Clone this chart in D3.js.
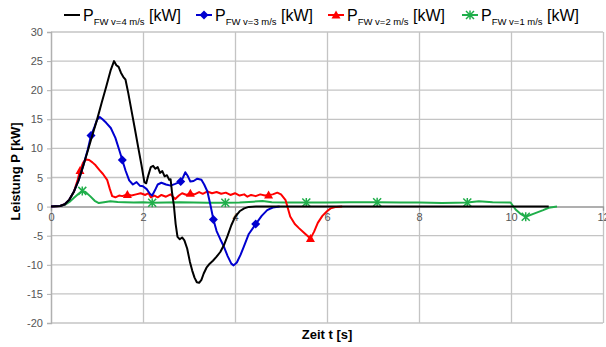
<!DOCTYPE html>
<html>
<head>
<meta charset="utf-8">
<script src="https://cdn.jsdelivr.net/npm/d3@7"></script>
<style>
  body { margin: 0; background: #fff; }
  text { font-family: "Liberation Sans", Arial, sans-serif; }
</style>
</head>
<body>
<script>
// Zeit t [s], Leistung P [kW]
var v4 = [[0,0],[0.2,0.1],[0.3,0.4],[0.4,1.2],[0.5,2.6],[0.6,4.5],[0.7,7],[0.8,9.6],[0.9,12.3],[1.0,14.9],
          [1.1,17.8],[1.2,20.6],[1.3,23.5],[1.37,25],[1.42,24.3],[1.47,24.0],[1.52,23.0],[1.57,22.3],[1.62,21.8],
          [1.68,19.5],[1.75,16.5],[1.82,13.5],[1.9,10],[1.97,7],[2.03,4.2],[2.07,4.0],[2.12,5.5],[2.17,6.8],
          [2.22,7.0],[2.27,6.5],[2.32,6.8],[2.37,5.8],[2.42,6.1],[2.47,5.2],[2.52,5.4],[2.57,4.6],[2.6,4.7],
          [2.63,2.5],[2.67,0.3],[2.71,-3],[2.75,-5.2],[2.8,-5.6],[2.85,-5.3],[2.9,-5.8],[2.96,-7.2],[3.02,-9.5],
          [3.07,-11],[3.12,-12.2],[3.17,-13],[3.22,-13.1],[3.27,-12.6],[3.32,-11.5],[3.38,-10.5],[3.45,-9.8],
          [3.52,-9.3],[3.6,-8.6],[3.68,-7.8],[3.76,-6.6],[3.84,-5.0],[3.92,-3.2],[4.0,-1.8],[4.1,-0.8],
          [4.2,-0.3],[4.3,-0.05],[4.45,0],[10.82,0]];
var v3 = [[0,0],[0.2,0.1],[0.3,0.4],[0.4,1.2],[0.5,2.6],[0.6,4.5],[0.7,7],[0.8,9.8],[0.87,12.2],[0.95,13.8],
          [1.0,14.9],[1.06,15.4],[1.12,15.0],[1.2,14.4],[1.3,13.5],[1.4,11.8],[1.48,9.8],[1.55,8.0],[1.62,6.2],
          [1.7,4.5],[1.78,3.8],[1.86,4.2],[1.93,3.6],[2.0,3.5],[2.08,3.0],[2.15,2.2],[2.2,1.9],[2.26,2.8],
          [2.32,3.8],[2.4,4.1],[2.5,3.8],[2.6,3.6],[2.7,3.9],[2.82,4.3],[2.87,5.0],[2.92,5.9],[2.97,5.3],
          [3.03,4.3],[3.1,4.4],[3.18,4.8],[3.27,4.6],[3.33,3.8],[3.4,2.6],[3.46,0.5],[3.53,-2.2],[3.6,-4.2],
          [3.68,-5.6],[3.76,-6.9],[3.84,-8.5],[3.92,-9.8],[3.97,-10.1],[4.04,-9.6],[4.12,-8.3],[4.19,-6.9],
          [4.3,-4.7],[4.45,-3.0],[4.58,-1.6],[4.7,-0.6],[4.82,-0.15],[4.97,0]];
var v2 = [[0,0],[0.2,0.1],[0.3,0.4],[0.4,1.2],[0.5,2.6],[0.58,4.6],[0.63,6.2],[0.7,7.6],[0.76,8.1],[0.83,8.0],
          [0.9,7.6],[0.97,7.1],[1.05,6.3],[1.13,5.6],[1.22,4.6],[1.28,3.0],[1.33,1.8],[1.4,1.6],[1.48,1.9],
          [1.55,1.8],[1.66,2.1],[1.75,1.9],[1.85,2.1],[1.95,2.3],[2.05,2.0],[2.12,2.3],[2.17,1.6],[2.25,1.9],
          [2.32,1.6],[2.4,2.0],[2.5,1.7],[2.6,2.1],[2.7,1.3],[2.78,1.9],[2.85,2.3],[2.95,2.0],[3.03,2.3],
          [3.12,2.1],[3.22,2.5],[3.3,2.2],[3.4,2.6],[3.5,2.3],[3.6,2.5],[3.7,2.2],[3.8,2.4],[3.9,2.0],
          [4.0,2.3],[4.1,1.9],[4.2,2.1],[4.27,1.7],[4.35,2.0],[4.45,1.8],[4.55,2.1],[4.65,1.9],[4.73,2.0],
          [4.82,2.1],[4.92,2.4],[5.0,2.1],[5.1,1.1],[5.2,-1.7],[5.3,-3.0],[5.39,-3.7],[5.5,-4.5],[5.64,-5.5],
          [5.72,-4.3],[5.8,-2.8],[5.9,-1.6],[6.0,-0.8],[6.08,-0.3],[6.2,-0.05],[6.33,0]];
var v1 = [[0,0],[0.2,0.1],[0.3,0.3],[0.4,0.8],[0.5,1.5],[0.6,2.2],[0.68,2.7],[0.75,2.5],[0.85,1.8],[0.95,1.0],
          [1.04,0.6],[1.15,0.75],[1.29,0.9],[1.45,0.8],[1.6,0.75],[1.8,0.7],[2.0,0.75],[2.2,0.65],[2.5,0.7],
          [2.8,0.75],[3.1,0.7],[3.4,0.65],[3.79,0.65],[4.1,0.7],[4.4,0.85],[4.6,0.95],[4.8,0.75],[5.1,0.7],
          [5.55,0.7],[6.0,0.7],[6.5,0.75],[7.09,0.75],[7.6,0.7],[8.0,0.7],[8.5,0.6],[8.8,0.65],[9.05,0.7],
          [9.3,0.9],[9.6,0.75],[9.99,0.7],[10.1,-0.5],[10.2,-1.2],[10.32,-1.75],[10.5,-1.2],[10.7,-0.6],
          [10.82,-0.2],[11.0,0]];

// marker positions (Excel draws a marker on every n-th point)
var v3Markers = [[0.87,12.2],[1.55,8.0],[2.82,4.3],[3.53,-2.2],[4.45,-3.0]];
var v2Markers = [[0.63,6.2],[1.66,2.1],[3.03,2.3],[4.73,2.0],[5.64,-5.5]];
var v1Markers = [[0.68,2.7],[2.2,0.65],[3.79,0.65],[5.55,0.7],[7.09,0.75],[9.05,0.7],[10.32,-1.75]];

var xTicks = [0, 2, 4, 6, 8, 10, 12];
var yTicks = [-20, -15, -10, -5, 0, 5, 10, 15, 20, 25, 30];
var legendSubs = ["FW v=4 m/s", "FW v=3 m/s", "FW v=2 m/s", "FW v=1 m/s"];

var W = 606, H = 347;
var pLeft = 51, pRight = 603, pTop = 32, pBottom = 323;

var svg = d3.select("body").append("svg")
    .attr("width", W)
    .attr("height", H);

var x = d3.scaleLinear().domain([0, 12]).range([pLeft, pRight]);
var y = d3.scaleLinear().domain([-20, 30]).range([pBottom, pTop]);

// plain hyphen like Excel, not the unicode minus
var fmt = function(d) { return String(d); };

// grid
svg.append("g")
   .attr("transform", "translate(0," + pBottom + ")")
   .call(d3.axisBottom(x).tickValues(xTicks).tickSize(-(pBottom - pTop)).tickFormat(""))
   .call(function(g) {
      g.select(".domain").remove();
      g.selectAll("line").attr("stroke", "#c4c4c4").attr("stroke-width", 1.3);
   });

svg.append("g")
   .selectAll("line")
   .data(yTicks)
   .enter()
   .append("line")
   .attr("x1", pLeft)
   .attr("x2", pRight)
   .attr("y1", function(d) { return y(d); })
   .attr("y2", function(d) { return y(d); })
   .attr("stroke", "#c4c4c4")
   .attr("stroke-width", 1.3);

svg.append("g")
   .attr("transform", "translate(" + pLeft + ",0)")
   .call(d3.axisLeft(y).tickValues(yTicks).tickFormat(fmt).tickSize(4).tickPadding(4))
   .call(function(g) {
      g.select(".domain").attr("stroke", "#b0b0b0").attr("stroke-width", 1.3);
      g.selectAll(".tick line").attr("stroke", "#b0b0b0");
      g.selectAll(".tick text").attr("fill", "#555").style("font-size", "11px")
       .style("font-family", "'Liberation Sans', Arial, sans-serif");
   });

// x axis sits on the zero line
svg.append("g")
   .attr("transform", "translate(0," + y(0) + ")")
   .call(d3.axisBottom(x).tickValues(xTicks).tickFormat(fmt).tickSize(4).tickPadding(3))
   .call(function(g) {
      g.select(".domain").attr("stroke", "#999").attr("stroke-width", 1.3);
      g.selectAll(".tick line").attr("stroke", "#999");
      g.selectAll(".tick text").attr("fill", "#555").style("font-size", "11px")
       .style("font-family", "'Liberation Sans', Arial, sans-serif");
   });

var line = d3.line()
    .x(function(d) { return x(d[0]); })
    .y(function(d) { return y(d[1]); });

var series = [
  {data: v4, color: "#000000", markers: [], shape: null},
  {data: v3, color: "#0000d0", markers: v3Markers, shape: "diamond"},
  {data: v2, color: "#ff0000", markers: v2Markers, shape: "triangle"},
  {data: v1, color: "#1fae4a", markers: v1Markers, shape: "star"}
];

function drawMarker(g, shape, color, cx, cy) {
  if (shape === "diamond") {
    g.append("path").attr("d", "M" + cx + "," + (cy - 4.5) + "L" + (cx + 4.5) + "," + cy +
        "L" + cx + "," + (cy + 4.5) + "L" + (cx - 4.5) + "," + cy + "Z").attr("fill", color);
  } else if (shape === "triangle") {
    g.append("path").attr("d", "M" + cx + "," + (cy - 4.5) + "L" + (cx + 4.5) + "," + (cy + 3.5) +
        "L" + (cx - 4.5) + "," + (cy + 3.5) + "Z").attr("fill", color);
  } else if (shape === "star") {
    g.append("path").attr("d", "M" + (cx - 4) + "," + (cy - 4) + "L" + (cx + 4) + "," + (cy + 4) +
        "M" + (cx + 4) + "," + (cy - 4) + "L" + (cx - 4) + "," + (cy + 4) +
        "M" + cx + "," + (cy - 4.5) + "L" + cx + "," + (cy + 4.5))
      .attr("stroke", color).attr("stroke-width", 1.5).attr("fill", "none");
  }
}

// draw in reverse so black ends up on top of the zero line like in Excel
series.slice().reverse().forEach(function(s) {
  svg.append("path")
     .datum(s.data)
     .attr("d", line)
     .attr("fill", "none")
     .attr("stroke", s.color)
     .attr("stroke-width", 2)
     .attr("stroke-linejoin", "round");
  var g = svg.append("g");
  s.markers.forEach(function(m) { drawMarker(g, s.shape, s.color, x(m[0]), y(m[1])); });
});

// legend
var legX = [64, 196, 328, 462];
var leg = svg.append("g");
series.forEach(function(s, i) {
  var lx = legX[i], ly = 15;
  leg.append("line").attr("x1", lx).attr("x2", lx + 16).attr("y1", ly).attr("y2", ly)
     .attr("stroke", s.color).attr("stroke-width", 2);
  if (s.shape) drawMarker(leg, s.shape, s.color, lx + 8, ly);
  var t = leg.append("text").attr("x", lx + 19).attr("y", ly + 6)
     .style("font-size", "16px").attr("fill", "#000");
  t.append("tspan").text("P");
  t.append("tspan").attr("dy", 4).style("font-size", "9.5px").text(legendSubs[i]);
  t.append("tspan").attr("dy", -4).text(" [kW]");
});

// axis titles
svg.append("text")
   .attr("transform", "translate(20," + ((pTop + pBottom) / 2 - 6) + ") rotate(-90)")
   .attr("text-anchor", "middle")
   .style("font-size", "13px").style("font-weight", "bold")
   .text("Leistung P [kW]");

svg.append("text")
   .attr("x", (pLeft + pRight) / 2)
   .attr("y", 339)
   .attr("text-anchor", "middle")
   .style("font-size", "13px").style("font-weight", "bold")
   .text("Zeit t [s]");
</script>
</body>
</html>
